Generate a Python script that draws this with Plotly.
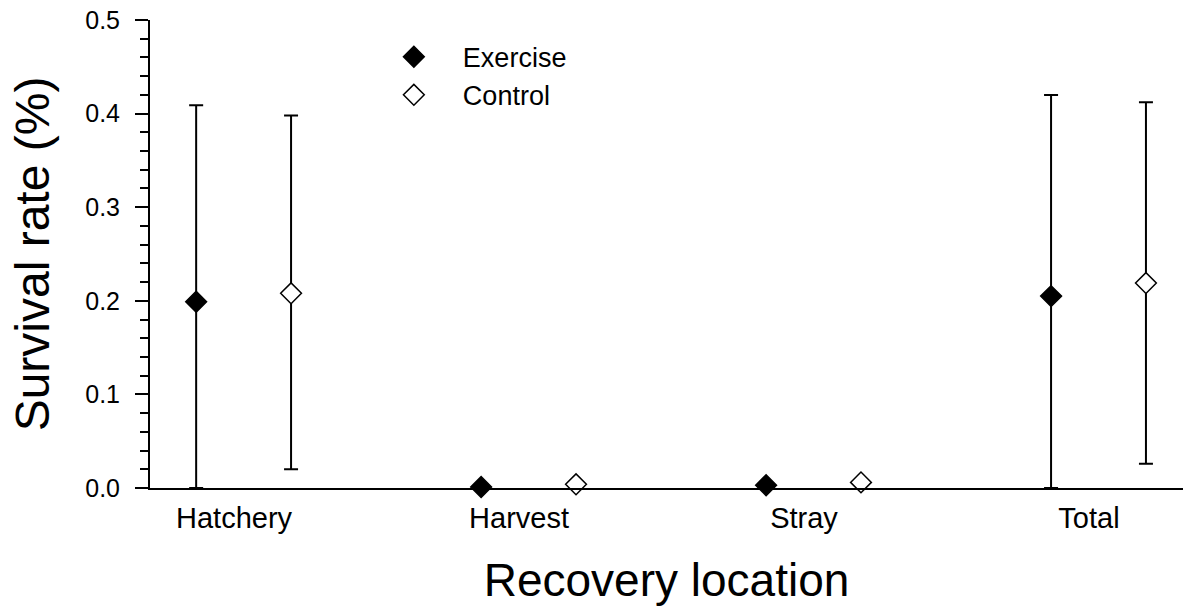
import plotly.graph_objects as go

# recovery locations on the x axis
locations = ["Hatchery", "Harvest", "Stray", "Total"]

# survival rate (%)
exercise_rate = [0.199, 0.001, 0.003, 0.205]
exercise_upper = [0.409, 0.001, 0.003, 0.420]
exercise_lower = [0.0, 0.001, 0.003, 0.0]

control_rate = [0.208, 0.004, 0.006, 0.219]
control_upper = [0.398, 0.004, 0.006, 0.412]
control_lower = [0.020, 0.004, 0.006, 0.026]

FONT = "Liberation Sans, Arial, sans-serif"

pos = list(range(1, len(locations) + 1))


def series(name, rate, upper, lower, offset, fill):
    """one group of diamonds with asymmetric error bars"""
    return go.Scatter(
        x=[p + offset for p in pos],
        y=rate,
        name=name,
        mode="markers",
        marker=dict(symbol="diamond", size=16, color=fill,
                    line=dict(color="black", width=1.5)),
        error_y=dict(type="data", symmetric=False,
                     array=[u - r for u, r in zip(upper, rate)],
                     arrayminus=[r - l for r, l in zip(rate, lower)],
                     color="black", thickness=2, width=7),
        cliponaxis=False,
    )


fig = go.Figure([
    series("Exercise", exercise_rate, exercise_upper, exercise_lower, -0.133, "black"),
    series("Control", control_rate, control_upper, control_lower, 0.2, "white"),
])

fig.update_layout(
    width=1183, height=608,
    margin=dict(l=150, r=0, t=20, b=120),
    paper_bgcolor="white", plot_bgcolor="white",
    font=dict(family=FONT, color="black"),
    showlegend=True,
    legend=dict(x=0.208, y=0.973, xanchor="left", yanchor="top",
                font=dict(size=27), itemwidth=88, bgcolor="rgba(0,0,0,0)",
                tracegroupgap=0),
    xaxis=dict(
        range=[0.705, 4.33], tickvals=pos, ticktext=locations,
        showline=True, linecolor="black", linewidth=2,
        ticks="", showgrid=False, zeroline=False,
        tickfont=dict(size=29), ticklabelstandoff=3,
        title=dict(text="Recovery location", font=dict(size=46), standoff=31),
    ),
    yaxis=dict(
        range=[0, 0.5], dtick=0.1, tickformat=".1f",
        showline=True, linecolor="black", linewidth=2,
        ticks="outside", ticklen=13, tickwidth=2, tickcolor="black",
        minor=dict(dtick=0.02, ticks="outside", ticklen=8, tickwidth=2, tickcolor="black"),
        showgrid=False, zeroline=False,
        tickfont=dict(size=25), ticklabelstandoff=10,
        title=dict(text="Survival rate (%)", font=dict(size=48), standoff=20),
    ),
)

fig.write_html("out.html", config={"displayModeBar": False},
               post_script="document.body.style.margin='0';")
